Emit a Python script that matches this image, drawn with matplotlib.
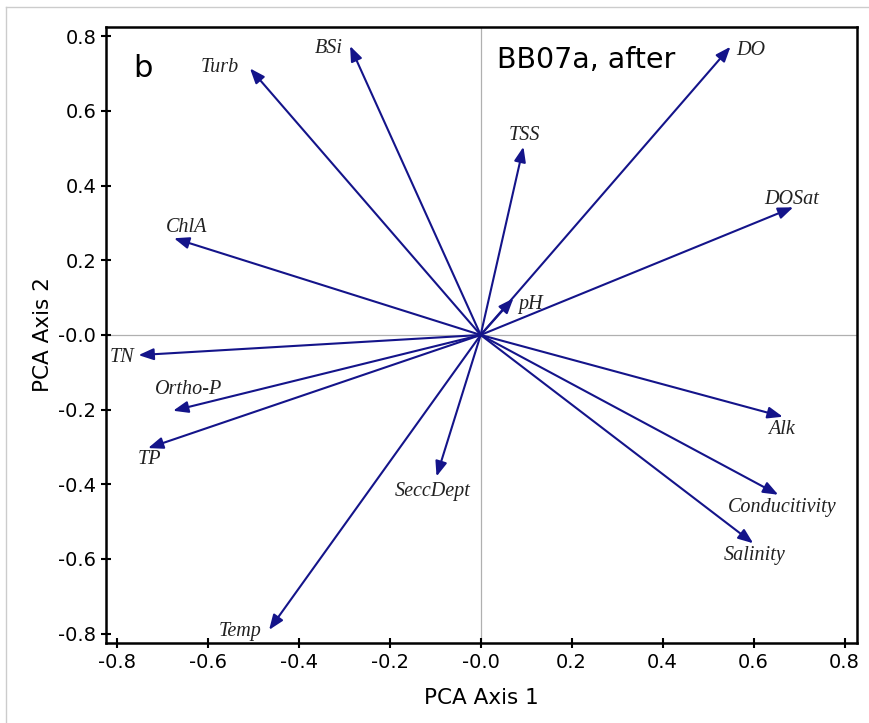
import numpy as np
import matplotlib.pyplot as plt
from matplotlib.lines import Line2D

# PCA loadings (arrow tips)
variables = ["Turb", "BSi", "DO", "TSS", "DOSat", "ChlA", "pH", "TN",
             "Ortho-P", "TP", "SeccDept", "Temp", "Alk", "Conducitivity", "Salinity"]
axis1 = [-0.507, -0.287, 0.549, 0.094, 0.687, -0.674, 0.072, -0.752,
         -0.676, -0.731, -0.097, -0.465, 0.664, 0.654, 0.599]
axis2 = [0.714, 0.774, 0.772, 0.504, 0.342, 0.259, 0.098, -0.054,
         -0.203, -0.303, -0.379, -0.790, -0.219, -0.428, -0.558]

# label offsets in points from the arrow tip (dx, dy, ha)
label_pos = {
    "Turb": (-22, 0.5, "center"), "BSi": (-15, -1.5, "center"), "DO": (4, -2.5, "left"),
    "TSS": (1, 8.5, "center"), "DOSat": (-1, 5.5, "center"), "ChlA": (9, 8, "center"),
    "pH": (3.5, -4.5, "left"), "TN": (-12, -1.5, "center"), "Ortho-P": (11, 15, "center"),
    "TP": (1, -8.5, "center"), "SeccDept": (-3, -10.5, "center"), "Temp": (-21, -1.5, "center"),
    "Alk": (-1, -9.5, "center"), "Conducitivity": (3, -9.5, "center"), "Salinity": (1, -8.5, "center"),
}

arrow_col = "#14148a"

fig = plt.figure(figsize=(8.7, 7.23), dpi=100)
ax = fig.add_axes([0.1218, 0.1107, 0.8632, 0.852])

ax.axhline(0, color="#b0b0b0", lw=0.9, zorder=1)
ax.axvline(0, color="#b0b0b0", lw=0.9, zorder=1)

for name, x, y in zip(variables, axis1, axis2):
    ax.annotate("", xy=(x, y), xytext=(0, 0),
                arrowprops=dict(arrowstyle="-|>,head_length=0.9,head_width=0.35",
                                color=arrow_col, lw=1.5, shrinkA=0, shrinkB=0),
                zorder=3)
    dx, dy, ha = label_pos[name]
    ax.annotate(name, xy=(x, y), xytext=(dx, dy), textcoords="offset points",
                ha=ha, va="center", fontsize=14.5, style="italic",
                family="Liberation Serif", color="#222222")

ax.set_xlim(-0.8235, 0.827)
ax.set_ylim(-0.825, 0.825)
ax.set_xticks(np.arange(-0.8, 0.81, 0.2))
ax.set_yticks(np.arange(-0.8, 0.81, 0.2))
fmt = plt.FuncFormatter(lambda v, p: "%.1f" % v if abs(v) > 1e-9 else "-0.0")
ax.xaxis.set_major_formatter(fmt)
ax.yaxis.set_major_formatter(fmt)
ax.tick_params(direction="inout", length=7, width=1.5, labelsize=14, colors="black")
for s in ax.spines.values():
    s.set_linewidth(1.8)

ax.set_xlabel("PCA Axis 1", fontsize=15.5, labelpad=12)
ax.set_ylabel("PCA Axis 2", fontsize=15.5, labelpad=4)

ax.text(0.036, 0.9188, "b", transform=ax.transAxes, fontsize=22, va="baseline")
ax.text(0.521, 0.9334, "BB07a, after", transform=ax.transAxes, fontsize=20.5, va="baseline")

# light border of the original screenshot
fig.add_artist(Line2D([6/870, 1], [1-7/723, 1-7/723], color="#cccccc", lw=1))
fig.add_artist(Line2D([6/870, 6/870], [0, 1-7/723], color="#cccccc", lw=1))

plt.savefig("out.png", dpi=100)
